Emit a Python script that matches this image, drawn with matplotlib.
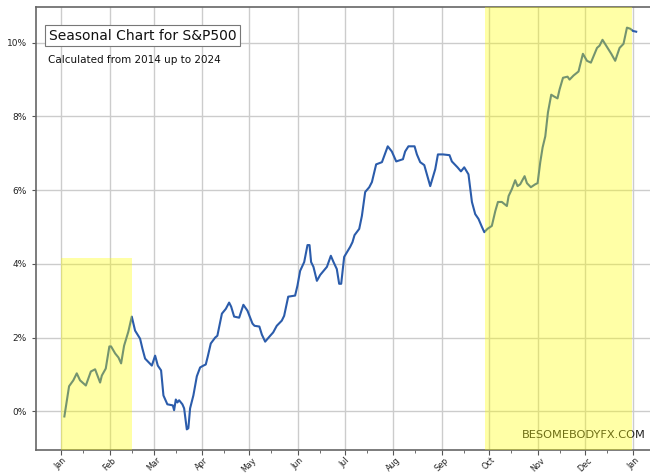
import matplotlib
matplotlib.use("Agg")
import matplotlib.pyplot as plt
import matplotlib.dates as mdates
from matplotlib.ticker import FuncFormatter
import numpy as np
from datetime import datetime

# ---- data (day offset from Jan 1, cumulative seasonal return in %) ----
days = [2.1, 5.1, 7.8, 10.0, 12.1, 15.8, 19.0, 21.7, 24.9, 26.0, 28.5, 30.8, 31.9,
        34.5, 36.6, 38.3, 40.2, 42.9, 45.1, 47.2, 50.4, 51.9, 53.6, 57.9, 60.0,
        61.7, 63.8, 65.3, 67.8, 71.3, 72.1, 73.2, 74.2, 75.3, 77.4, 78.5, 80.2,
        81.2, 82.3, 84.4, 86.6, 88.7, 90.8, 92.3, 93.6, 95.5, 98.3, 99.7, 102.6,
        105.1, 107.2, 108.5, 110.4, 113.6, 116.3, 118.9, 122.1, 123.4, 126.5,
        128.1, 130.2, 133.4, 135.3, 137.6, 140.8, 142.3, 144.9, 149.3, 150.8,
        152.5, 155.1, 157.2, 158.5, 159.5, 161.0, 163.2, 165.3, 169.6, 172.1,
        173.8, 175.9, 177.4, 178.7, 180.6, 184.4, 185.9, 187.2, 190.2, 191.9,
        194.0, 196.6, 198.3, 201.0, 204.7, 206.1, 208.4, 211.0, 213.8, 218.1,
        219.5, 221.6, 225.5, 227.0, 229.1, 231.7, 235.5, 238.7, 240.4, 243.6,
        247.8, 249.3, 252.9, 255.1, 257.2, 259.9, 262.1, 264.2, 266.3, 268.5,
        270.0, 272.0, 274.8, 277.0, 278.7, 281.2, 284.4, 285.5, 287.6, 289.7,
        291.2, 292.9, 295.7, 297.2, 299.7, 302.5, 304.0, 305.7, 307.2, 308.9,
        310.6, 312.7, 314.6, 316.7, 318.0, 320.2, 323.1, 324.4, 326.9, 330.1,
        332.9, 335.5, 338.0, 341.9, 343.5, 345.4, 348.2, 351.0, 353.5, 356.3,
        358.8, 361.0, 363.1, 364.8, 366.9]
values = [-0.14, 0.68, 0.84, 1.03, 0.84, 0.70, 1.08, 1.14, 0.78, 0.97, 1.16, 1.76, 1.76,
          1.57, 1.46, 1.30, 1.78, 2.16, 2.57, 2.19, 1.97, 1.70, 1.43, 1.24, 1.51,
          1.24, 1.11, 0.43, 0.19, 0.16, 0.03, 0.32, 0.24, 0.30, 0.19, 0.08, -0.49,
          -0.46, 0.08, 0.43, 0.95, 1.19, 1.24, 1.27, 1.49, 1.84, 2.00, 2.05, 2.65,
          2.78, 2.95, 2.84, 2.57, 2.54, 2.89, 2.73, 2.38, 2.32, 2.30,
          2.08, 1.89, 2.05, 2.14, 2.32, 2.46, 2.59, 3.11, 3.14, 3.41,
          3.81, 4.05, 4.51, 4.51, 4.05, 3.92, 3.54, 3.70, 3.92, 4.22,
          4.05, 3.86, 3.46, 3.46, 4.19, 4.46, 4.59, 4.78, 4.95, 5.30,
          5.95, 6.08, 6.22, 6.70, 6.76, 6.92, 7.19, 7.05, 6.78, 6.84,
          7.05, 7.19, 7.19, 6.97, 6.76, 6.68, 6.11, 6.57, 6.97, 6.97,
          6.95, 6.78, 6.62, 6.51, 6.62, 6.43, 5.68, 5.35, 5.22, 5.00,
          4.86, 4.95, 5.03, 5.43, 5.68, 5.68, 5.57, 5.84, 6.03, 6.27,
          6.11, 6.16, 6.38, 6.19, 6.08, 6.16, 6.19, 6.76, 7.16, 7.46,
          8.11, 8.59, 8.54, 8.49, 8.73, 9.05, 9.08, 9.00, 9.11, 9.22,
          9.70, 9.51, 9.46, 9.86, 9.92, 10.08, 9.89, 9.70, 9.51, 9.86,
          9.97, 10.41, 10.38, 10.32, 10.30]

title_text = "Seasonal Chart for S&P500"
subtitle_text = "Calculated from 2014 up to 2024"
watermark = "BESOMEBODYFX.COM"

# highlighted periods: (start day, end day, top value or None for full height)
span1 = (0.0, 45.0, 4.15)
span2 = (270.5, 364.5, None)

y_lim = (-1.05, 10.97)
x_lim_days = (-16.0, 384.0)

# ---- plotting ----
base = mdates.date2num(datetime(2023, 1, 1))
x = base + np.array(days)
y = np.array(values)

fig = plt.figure(figsize=(6.5, 4.73), dpi=100)
ax = fig.add_axes([36/650, 23/473, 627/650, 443/473])

ax.plot(x, y, color="#2b5cab", linewidth=1.5, zorder=2)

ax.set_xlim(base + x_lim_days[0], base + x_lim_days[1])
ax.set_ylim(*y_lim)

def frac(v):
    return (v - y_lim[0]) / (y_lim[1] - y_lim[0])

ax.axvspan(base + span1[0], base + span1[1], ymin=0, ymax=frac(span1[2]),
           color="#ffff00", alpha=0.35, lw=0, zorder=3)
ax.axvspan(base + span2[0], base + span2[1], ymin=0, ymax=1,
           color="#ffff00", alpha=0.35, lw=0, zorder=3)

ax.xaxis.set_major_locator(mdates.MonthLocator())
ax.xaxis.set_minor_locator(mdates.MonthLocator(bymonthday=15))
ax.xaxis.set_major_formatter(mdates.DateFormatter("%b"))
ax.set_yticks([0, 2, 4, 6, 8, 10])
ax.yaxis.set_major_formatter(FuncFormatter(lambda v, p: f"{v:.0f}%"))

for lab in ax.get_xticklabels():
    lab.set_rotation(45)
    lab.set_fontsize(5.8)
    lab.set_color("#222222")
ax.tick_params(axis="y", labelsize=6.5, labelcolor="#222222", length=3, color="#555555")
ax.tick_params(axis="x", which="major", length=3.5, color="#555555", pad=0.5)
ax.tick_params(axis="x", which="minor", length=2, color="#555555")

ax.grid(True, which="major", color="#cccccc", linewidth=1.0)
ax.set_axisbelow(True)

for s in ["left", "bottom", "top"]:
    ax.spines[s].set_color("#666666")
    ax.spines[s].set_linewidth(1.2)
ax.spines["right"].set_visible(False)

ax.text(0.02, 0.935, title_text, transform=ax.transAxes, fontsize=10,
        color="#111111", va="center", ha="left",
        bbox=dict(boxstyle="square,pad=0.25", facecolor="white", edgecolor="#777777", lw=0.8),
        zorder=5)
ax.text(0.019, 0.88, subtitle_text, transform=ax.transAxes, fontsize=7.5,
        color="#111111", va="center", ha="left", zorder=5)
ax.text(0.775, 0.034, watermark, transform=ax.transAxes, fontsize=8.2,
        color="#222222", va="center", ha="left", zorder=2.5)

fig.savefig("out.png", dpi=100)
